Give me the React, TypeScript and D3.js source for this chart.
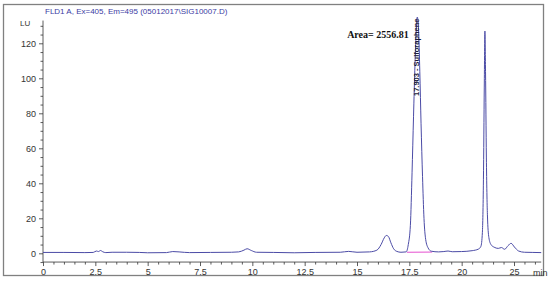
import React, { useRef, useEffect } from 'react'
import * as d3 from 'd3'

// detector trace: retention time (min) and signal (LU)
const times = [
  0, 1.0, 2.0, 2.4, 2.55, 2.65, 2.75, 2.85, 3.0, 3.3, 4.0, 4.6, 5.0, 5.9, 6.2, 6.5, 7.0, 8.0, 9.0,
  9.35, 9.6, 9.75, 9.95, 10.2, 11.0, 12.0, 13.0, 14.2, 14.6, 15.0, 15.6, 15.95, 16.15, 16.3, 16.4,
  16.5, 16.62, 16.75, 16.9, 17.1, 17.35, 17.45, 17.55, 17.63, 17.7, 17.77, 17.83, 17.88, 17.94,
  18.0, 18.06, 18.13, 18.2, 18.28, 18.4, 18.55, 18.9, 19.15, 19.35, 19.55, 20.0, 20.5, 20.8, 20.92,
  20.99, 21.04, 21.08, 21.11, 21.14, 21.18, 21.23, 21.3, 21.4, 21.55, 21.75, 21.9, 22.05, 22.22,
  22.36, 22.52, 22.72, 23.0, 23.4, 23.8
]
const signal = [
  0.5, 0.5, 0.4, 0.5, 1.3, 1.0, 1.6, 0.9, 0.4, 0.6, 0.6, 0.5, 0.3, 0.4, 1.0, 0.8, 0.4, 0.5, 0.6,
  0.8, 1.8, 2.6, 1.6, 0.6, 0.5, 0.3, 0.5, 0.6, 1.1, 0.6, 0.8, 1.8, 5.0, 8.8, 10.2,
  9.6, 6.0, 2.6, 1.1, 0.6, 0.8, 5, 16, 46, 78, 108, 128, 135, 128,
  104, 74, 44, 20, 8, 3, 1.2, 0.8, 1.0, 1.3, 0.9, 1.0, 1.5, 2.4, 4,
  12, 42, 95, 127, 104, 55, 22, 9, 5, 3.5, 2.8, 3.3, 2.3, 4.4,
  5.7, 3.6, 1.3, 0.6, 0.5, 0.4
]

// integration baseline of the main peak
const baseStart = [17.39, 0.6]
const baseEnd = [18.59, 0.7]

const xTicks = [0, 2.5, 5, 7.5, 10, 12.5, 15, 17.5, 20, 22.5]
const xTickLabels = ['0', '2.5', '5', '7.5', '10', '12.5', '15', '17.5', '20', '25']
const yTicks = [0, 20, 40, 60, 80, 100, 120]

const title = 'FLD1 A, Ex=405, Em=495 (05012017\\SIG10007.D)'
const peakTime = 17.903
const peakLabel = '17.903 - Sulforaphene'
const areaLabel = 'Area= 2556.81'

const W = 550
const H = 282
const axisFont = '"Liberation Sans", Arial, sans-serif'

export default function App() {
  const xAxisRef = useRef<SVGGElement>(null)
  const xMinorRef = useRef<SVGGElement>(null)
  const yAxisRef = useRef<SVGGElement>(null)
  const yMinorRef = useRef<SVGGElement>(null)

  const x = d3.scaleLinear().domain([0, 22.5]).range([43, 514])
  const y = d3.scaleLinear().domain([0, 120]).range([253.3, 43.3])
  const xEnd = 23.8
  const yTop = 133
  const yBottom = -5
  const axisY = y(yBottom)

  const pts: [number, number][] = times.map((t, i) => [t, signal[i]])
  const line = d3
    .line<[number, number]>()
    .x(d => x(d[0]))
    .y(d => y(d[1]))
    .curve(d3.curveMonotoneX)

  useEffect(() => {
    const style = (g: d3.Selection<SVGGElement, unknown, null, undefined>) => {
      g.select('.domain').remove()
      g.selectAll('line').attr('stroke', '#333').attr('stroke-width', 0.8)
      g.selectAll('text').attr('fill', '#333').style('font-family', axisFont).style('font-size', '9px')
    }

    const xa = d3.select(xAxisRef.current!)
    xa.call(
      d3
        .axisBottom(x)
        .tickValues(xTicks)
        .tickSize(4)
        .tickPadding(3)
        .tickFormat((d, i) => xTickLabels[i])
    )
    style(xa)

    const xm = d3.select(xMinorRef.current!)
    xm.call(
      d3
        .axisBottom(x)
        .tickValues(d3.range(0, xEnd, 0.5).filter(v => !xTicks.includes(v)))
        .tickSize(2.5)
        .tickFormat(() => '')
    )
    style(xm)

    const ya = d3.select(yAxisRef.current!)
    ya.call(d3.axisLeft(y).tickValues(yTicks).tickSize(4).tickPadding(3))
    style(ya)

    const ym = d3.select(yMinorRef.current!)
    ym.call(
      d3
        .axisLeft(y)
        .tickValues(d3.range(-5, yTop, 5).filter(v => !yTicks.includes(v)))
        .tickSize(2.5)
        .tickFormat(() => '')
    )
    style(ym)
  }, [])

  return (
    <svg
      width={W}
      height={H}
      style={{ position: 'absolute', left: 0, top: 0, background: '#fff' }}
    >
      <rect x={3.5} y={4.5} width={540} height={271} fill="#fff" stroke="#808080" strokeWidth={1.3} />

      <text x={45} y={13.5} fill="#3b3ba3" fontFamily={axisFont} fontSize={8}>
        {title}
      </text>
      <text x={20} y={26} fill="#333" fontFamily={axisFont} fontSize={8}>
        LU
      </text>
      <text x={533} y={276} fill="#333" fontFamily={axisFont} fontSize={9}>
        min
      </text>

      <line x1={x(0)} x2={x(xEnd)} y1={axisY} y2={axisY} stroke="#333" strokeWidth={0.8} />
      <line x1={x(0)} x2={x(0)} y1={y(yTop)} y2={axisY} stroke="#333" strokeWidth={0.8} />
      <g ref={xAxisRef} transform={`translate(0,${axisY})`} />
      <g ref={xMinorRef} transform={`translate(0,${axisY})`} />
      <g ref={yAxisRef} transform={`translate(${x(0)},0)`} />
      <g ref={yMinorRef} transform={`translate(${x(0)},0)`} />

      <line
        x1={x(baseStart[0])}
        y1={y(baseStart[1])}
        x2={x(baseEnd[0])}
        y2={y(baseEnd[1])}
        stroke="#e64fd0"
        strokeWidth={1}
      />
      <path d={line(pts) ?? ''} fill="none" stroke="#4b4ba6" strokeWidth={1} />

      <text
        transform={`translate(${x(peakTime) + 1},96) rotate(-90)`}
        fill="#1c1c3a"
        fontFamily={axisFont}
        fontSize={7.5}
        fontWeight="bold"
      >
        {peakLabel}
      </text>
      <text
        x={x(peakTime) - 9}
        y={38}
        textAnchor="end"
        fontFamily='"Liberation Serif", "Times New Roman", serif'
        fontWeight="bold"
        fontSize={10}
        fill="#111"
      >
        {areaLabel}
      </text>
    </svg>
  )
}
